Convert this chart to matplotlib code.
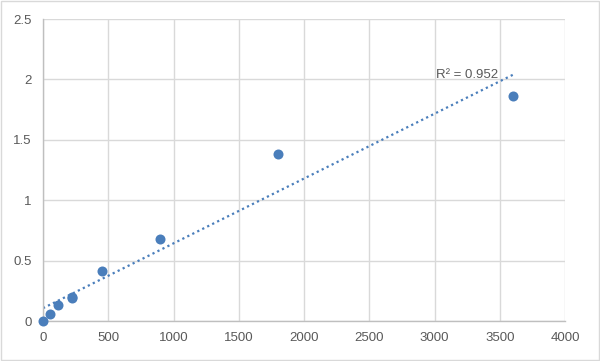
import numpy as np
import matplotlib
matplotlib.use("Agg")
import matplotlib.pyplot as plt

# dati
conc = [0, 56, 112, 225, 225, 450, 900, 1800, 3600]
od = [0.0, 0.06, 0.13, 0.19, 0.20, 0.41, 0.68, 1.38, 1.86]
r2_label = "R² = 0.952"
x_ticks = [0, 500, 1000, 1500, 2000, 2500, 3000, 3500, 4000]
y_ticks = [0, 0.5, 1, 1.5, 2, 2.5]

blue = "#4a7ebb"
grid_c = "#d9d9d9"
txt_c = "#595959"

plt.rcParams['font.family'] = ['Liberation Sans', 'DejaVu Sans']

fig = plt.figure(figsize=(6, 3.61), dpi=100)
fig.patch.set_facecolor('white')
ax = fig.add_axes([0.0717, 0.1108, 0.87, 0.8365])

# retta di tendenza lineare
m, q = np.polyfit(conc, od, 1)
xl = np.array([0, max(conc)])
ax.plot(xl, m * xl + q, linestyle=(0, (1, 1.5)), color=blue, linewidth=1.6, zorder=2)

ax.scatter(conc, od, s=52, color=blue, zorder=3, linewidths=0, clip_on=False)

ax.text(3010, 2.04, r2_label, fontsize=9.5, color=txt_c, va='center', ha='left')

ax.set_xlim(0, 4000)
ax.set_ylim(0, 2.5)
ax.set_xticks(x_ticks)
ax.set_yticks(y_ticks)
ax.set_yticklabels(['0', '0.5', '1', '1.5', '2', '2.5'])
ax.grid(True, color=grid_c, linewidth=1)
ax.set_axisbelow(True)
for s in ['top', 'right']:
    ax.spines[s].set_visible(False)
for s in ['left', 'bottom']:
    ax.spines[s].set_color('#bfbfbf')
    ax.spines[s].set_linewidth(1)
ax.tick_params(length=0, colors=txt_c, labelsize=9.5, pad=8)

# bordo esterno
fig.add_artist(plt.Rectangle((0.002, 0.003), 0.996, 0.994, transform=fig.transFigure,
                             fill=False, edgecolor='#d9d9d9', linewidth=1))

fig.savefig('out.png', dpi=100)
